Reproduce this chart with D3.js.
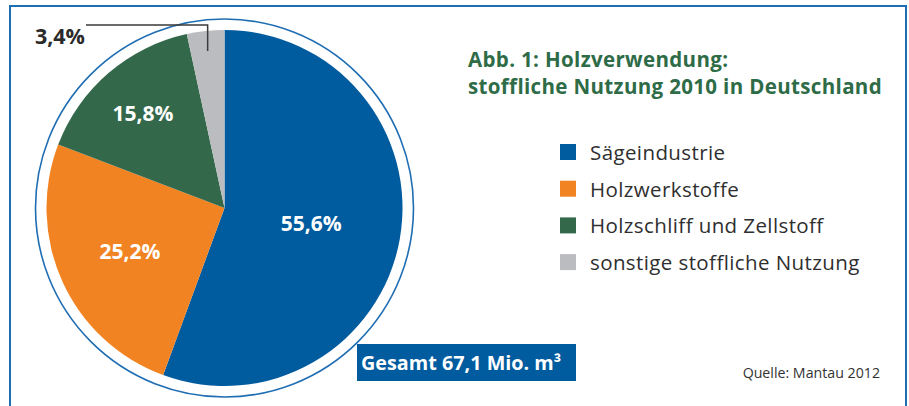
<!DOCTYPE html>
<html>
<head>
<meta charset="utf-8">
<script src="https://cdn.jsdelivr.net/npm/d3@7"></script>
<style>
  body { margin:0; background:#fff; }
  svg { display:block; font-family: "Open Sans", Roboto, "Liberation Sans", sans-serif; }
</style>
</head>
<body>
<div id="chart"></div>
<script>
// data
const categories = ["Sägeindustrie", "Holzwerkstoffe", "Holzschliff und Zellstoff", "sonstige stoffliche Nutzung"];
const shares = [55.6, 25.2, 15.8, 3.4];
const labels = ["55,6%", "25,2%", "15,8%", "3,4%"];
const colors = ["#005b9f", "#f28322", "#33694a", "#bbbcbf"];
const titleLines = ["Abb. 1: Holzverwendung:", "stoffliche Nutzung 2010 in Deutschland"];
const total = "Gesamt 67,1 Mio. m³";
const source = "Quelle: Mantau 2012";

const W = 909, H = 406;
const cx = 224.5, cy = 208, r = 178, ringR = 189;
// label distance from centre for each inner label
const labelR = [88, 104, 125];

const svg = d3.select("#chart").append("svg")
   .attr("width", W).attr("height", H);

// frame
svg.append("rect")
   .attr("x", 10).attr("y", 6)
   .attr("width", 896).attr("height", H + 20)
   .attr("fill", "none")
   .attr("stroke", "#1f6db3")
   .attr("stroke-width", 2);

const g = svg.append("g").attr("transform", `translate(${cx},${cy})`);

// outer ring
g.append("circle")
   .attr("r", ringR)
   .attr("fill", "none")
   .attr("stroke", "#1f6db3")
   .attr("stroke-width", 1.6);

const pie = d3.pie().sort(null).value(d => d);
const arc = d3.arc().innerRadius(0).outerRadius(r);
const arcs = pie(shares);

g.selectAll("path.slice")
   .data(arcs)
   .enter()
   .append("path")
   .attr("class", "slice")
   .attr("d", arc)
   .attr("fill", (d, i) => colors[i]);

// inner labels
g.selectAll("text.lbl")
   .data(arcs.slice(0, 3))
   .enter()
   .append("text")
   .attr("class", "lbl")
   .attr("x", (d, i) => Math.sin((d.startAngle + d.endAngle) / 2) * labelR[i])
   .attr("y", (d, i) => -Math.cos((d.startAngle + d.endAngle) / 2) * labelR[i])
   .attr("text-anchor", "middle")
   .attr("dominant-baseline", "central")
   .attr("fill", "#fff")
   .attr("font-weight", "bold")
   .attr("font-size", 21)
   .text((d, i) => labels[i]);

// small slice label with leader line
const small = arcs[3];
const mid = (small.startAngle + small.endAngle) / 2;
const px = Math.sin(mid) * (r - 20), py = -Math.cos(mid) * (r - 20);
g.append("path")
   .attr("d", `M${px},${py}V${-183}H${86 - cx}`)
   .attr("fill", "none")
   .attr("stroke", "#3a3a3a")
   .attr("stroke-width", 1.5);
svg.append("text")
   .attr("x", 85).attr("y", 35)
   .attr("text-anchor", "end")
   .attr("dominant-baseline", "central")
   .attr("fill", "#2b2b2b")
   .attr("font-weight", "bold")
   .attr("font-size", 21.5)
   .text(labels[3]);

// total box
svg.append("rect")
   .attr("x", 357).attr("y", 344)
   .attr("width", 219).attr("height", 37)
   .attr("fill", "#005b9f");
svg.append("text")
   .attr("x", 361).attr("y", 370)
   .attr("fill", "#fff")
   .attr("font-weight", "bold")
   .attr("font-size", 19.8)
   .text(total);

// title
svg.selectAll("text.title")
   .data(titleLines)
   .enter()
   .append("text")
   .attr("class", "title")
   .attr("x", 468)
   .attr("y", (d, i) => 67 + i * 26.5)
   .attr("fill", "#2e6b47")
   .attr("font-weight", "bold")
   .attr("font-size", 20.5)
   .attr("letter-spacing", 0.35)
   .text(d => d);

// legend
const legend = svg.selectAll("g.leg")
   .data(categories)
   .enter()
   .append("g")
   .attr("class", "leg")
   .attr("transform", (d, i) => `translate(560,${152 + i * 36.7})`);
legend.append("rect")
   .attr("x", 0).attr("y", -8)
   .attr("width", 16).attr("height", 16)
   .attr("fill", (d, i) => colors[i]);
legend.append("text")
   .attr("x", 30)
   .attr("dominant-baseline", "central")
   .attr("fill", "#2f2f2f")
   .attr("font-size", 20.5)
   .attr("letter-spacing", 0.4)
   .text(d => d);

// source
svg.append("text")
   .attr("x", 880).attr("y", 378)
   .attr("text-anchor", "end")
   .attr("fill", "#333")
   .attr("font-size", 14.2)
   .text(source);
</script>
</body>
</html>
